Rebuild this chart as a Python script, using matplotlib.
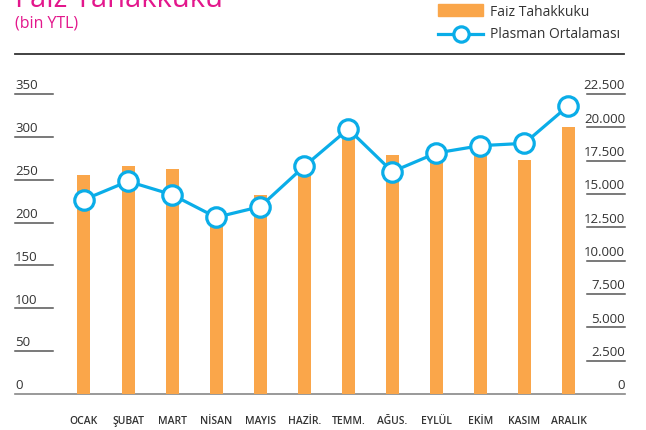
import matplotlib
matplotlib.use('Agg')
import matplotlib.pyplot as plt
from matplotlib.lines import Line2D
from matplotlib.patches import Rectangle
from matplotlib.transforms import blended_transform_factory, offset_copy

plt.rcParams['font.family'] = ['Open Sans', 'DejaVu Sans']

aylar = ['OCAK', 'ŞUBAT', 'MART', 'NİSAN', 'MAYIS', 'HAZİR.', 'TEMM.',
         'AĞUS.', 'EYLÜL', 'EKİM', 'KASIM', 'ARALIK']
faiz = [256, 266, 262, 205, 232, 259, 297, 279, 279, 283, 273, 311]
plasman = [14575, 15950, 14950, 13250, 14050, 17075, 19875, 16675,
           18075, 18625, 18800, 21625]
sol_ticks = [0, 50, 100, 150, 200, 250, 300, 350]
sag_ticks = [0, 2500, 5000, 7500, 10000, 12500, 15000, 17500, 20000, 22500]
sag_etiket = ['0', '2.500', '5.000', '7.500', '10.000', '12.500', '15.000',
              '17.500', '20.000', '22.500']

turuncu = '#FAA64A'
mavi = '#0AADE8'
pembe = '#E3178C'
gri = '#333333'

W, H = 646, 431
fig = plt.figure(figsize=(W / 100, H / 100), dpi=100)
ax = fig.add_axes([15 / W, 1 - 395 / H, 610 / W, 300 / H])
ax2 = ax.twinx()

x = list(range(len(aylar)))
ax.bar(x, faiz, width=0.295, color=turuncu, zorder=2)
ax.set_ylim(0, 350)
ax.set_xlim(-1.566, 12.283)

ax2.plot(x, plasman, color=mavi, lw=2.3, marker='o', markersize=14,
         markerfacecolor='white', markeredgecolor=mavi, markeredgewidth=2.3,
         zorder=3)
ax2.set_ylim(0, 22500)

for a in (ax, ax2):
    for s in a.spines.values():
        s.set_visible(False)
    a.set_yticks([])
ax.set_xticks(x)
ax.set_xticklabels(aylar, fontsize=7.5, color=gri, fontweight='semibold')
ax.tick_params(axis='x', length=0, pad=15)

# sol olcek: kisa cizgiler ve ustunde etiketler
tr = blended_transform_factory(ax.transAxes, ax.transData)
for v in sol_ticks:
    if v == 0:
        continue
    ax.plot([0, 0.062], [v, v], transform=tr, color='#555555', lw=1.1,
            clip_on=False, zorder=1)
for v in sol_ticks:
    ax.text(0, v, str(v), transform=offset_copy(tr, fig=fig, y=2, units='points'),
            ha='left', va='bottom', fontsize=9.5, color=gri)

tr2 = blended_transform_factory(ax2.transAxes, ax2.transData)
for v in sag_ticks:
    if v == 0:
        continue
    ax2.plot([0.938, 1.0], [v, v], transform=tr2, color='#555555', lw=1.1,
             clip_on=False, zorder=1)
for v, e in zip(sag_ticks, sag_etiket):
    ax2.text(1.0, v, e, transform=offset_copy(tr2, fig=fig, y=2, units='points'),
             ha='right', va='bottom', fontsize=9.5, color=gri)

# taban cizgisi
ax.plot([0, 1], [0, 0], transform=tr, color='#888888', lw=1.2, clip_on=False, zorder=1)

# baslik
fig.text(15 / W, 1 - 7 / H, 'Faiz Tahakkuku', fontsize=21, color=pembe, va='baseline')
fig.text(15 / W, 1 - 28 / H, '(bin YTL)', fontsize=11.5, color=pembe, va='baseline')

# ust cizgi
fig.add_artist(Line2D([15 / W, 624 / W], [1 - 55 / H, 1 - 55 / H], color='#333333', lw=1.3))

# lejant
fig.add_artist(Rectangle((438 / W, 1 - 17 / H), 45 / W, 12 / H, color=turuncu,
                         transform=fig.transFigure))
fig.add_artist(Line2D([438 / W, 483 / W], [1 - 35 / H, 1 - 35 / H], color=mavi, lw=2.3))
fig.add_artist(Line2D([460.5 / W], [1 - 35 / H], marker='o', markersize=11,
                      markerfacecolor='white', markeredgecolor=mavi, markeredgewidth=2.3))
fig.text(490 / W, 1 - 12 / H, 'Faiz Tahakkuku', fontsize=10, color=gri, va='center')
fig.text(490 / W, 1 - 35 / H, 'Plasman Ortalaması', fontsize=10, color=gri, va='center')

fig.savefig('out.png', dpi=100)
